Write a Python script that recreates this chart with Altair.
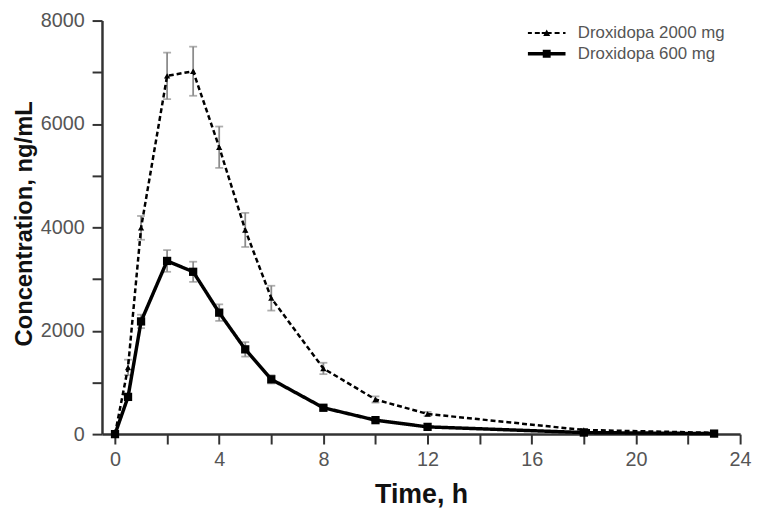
import altair as alt
import pandas as pd

# ---- data ----
time_h = [0, 0.5, 1, 2, 3, 4, 5, 6, 8, 10, 12, 18, 23]
conc_2000 = [0, 1290, 3990, 6930, 7020, 5550, 3950, 2630, 1270, 670, 390, 80, 25]
sem_2000 = [0, 150, 230, 450, 475, 400, 330, 240, 110, 60, 40, 15, 5]
conc_600 = [0, 720, 2180, 3350, 3140, 2350, 1640, 1060, 510, 270, 140, 30, 10]
sem_600 = [0, 60, 130, 210, 195, 160, 140, 80, 40, 25, 15, 5, 3]
series_names = ["Droxidopa 2000 mg", "Droxidopa 600 mg"]
x_ticks = list(range(0, 25, 2))
y_ticks = list(range(0, 8001, 1000))

rows = []
for name, conc, sem in [(series_names[0], conc_2000, sem_2000),
                        (series_names[1], conc_600, sem_600)]:
    for t, v, e in zip(time_h, conc, sem):
        rows.append({"series": name, "time": t, "conc": v, "sem": e})
df = pd.DataFrame(rows)

FONT = "Liberation Sans"
AXIS_COLOR = "#333333"

x_enc = alt.X(
    "time:Q",
    scale=alt.Scale(domain=[-0.5, 24], nice=False, zero=False),
    axis=alt.Axis(
        values=x_ticks,
        labelExpr="datum.value % 4 == 0 ? datum.label : ''",
        title="Time, h",
        titleFontSize=27, titleFontWeight="bold", titleFont=FONT, titleColor="#111111",
        titleBaseline="alphabetic", titleY=69,
        labelFontSize=20, labelFont=FONT, labelColor="#555555", labelPadding=6,
        labelFlush=False, labelOverlap=False,
        tickSize=10, tickWidth=2, tickColor=AXIS_COLOR,
        domainColor=AXIS_COLOR, domainWidth=2.5, grid=False,
    ),
)
y_enc = alt.Y(
    "conc:Q",
    scale=alt.Scale(domain=[0, 8000], nice=False),
    axis=alt.Axis(
        values=y_ticks,
        format="d",
        labelExpr="datum.value % 2000 == 0 ? datum.label : ''",
        title="Concentration, ng/mL",
        titleFontSize=24, titleFontWeight="bold", titleFont=FONT, titleColor="#111111",
        titleBaseline="alphabetic", titleX=-71, titleY=205, titleAngle=-90,
        titleAlign="center",
        labelFontSize=20, labelFont=FONT, labelColor="#555555", labelPadding=8,
        labelFlush=False, labelOverlap=False,
        tickSize=10, tickWidth=2, tickColor=AXIS_COLOR,
        domainColor=AXIS_COLOR, domainWidth=2.5, grid=False,
    ),
)

base = alt.Chart(df).transform_calculate(
    lo="datum.conc - datum.sem", hi="datum.conc + datum.sem"
)

err = base.transform_filter("datum.sem > 0").mark_rule(
    color="#8c8c8c", strokeWidth=1.8
).encode(x=x_enc, y="lo:Q", y2="hi:Q")

cap_lo = base.transform_filter("datum.sem > 0").mark_tick(
    color="#8c8c8c", orient="horizontal", size=8, thickness=1.8
).encode(x=x_enc, y="lo:Q")
cap_hi = base.transform_filter("datum.sem > 0").mark_tick(
    color="#8c8c8c", orient="horizontal", size=8, thickness=1.8
).encode(x=x_enc, y="hi:Q")

lines = base.mark_line(color="black").encode(
    x=x_enc, y=y_enc,
    detail="series:N",
    strokeDash=alt.StrokeDash("series:N", scale=alt.Scale(domain=series_names, range=[[5, 3], [1, 0]]), legend=None),
    strokeWidth=alt.StrokeWidth("series:N", scale=alt.Scale(domain=series_names, range=[2.5, 3.5]), legend=None),
)

points = base.mark_point(filled=True, color="black", opacity=1).encode(
    x=x_enc, y=y_enc,
    shape=alt.Shape("series:N", scale=alt.Scale(domain=series_names, range=["triangle-up", "square"]), legend=None),
    size=alt.Size("series:N", scale=alt.Scale(domain=series_names, range=[40, 70]), legend=None),
)

# legend symbols: dashed line + triangle, solid line + square (unit = 5 px)
sym_2000 = ("M-3.8,-0.2H-3.0V0.2H-3.8Z M-2.4,-0.2H-1.4V0.2H-2.4Z M-1.0,-0.2H1.0V0.2H-1.0Z "
            "M-0.7,0.6L0,-0.7L0.7,0.6Z M1.6,-0.2H2.6V0.2H1.6Z M3.3,-0.2H3.8V0.2H3.3Z")
sym_600 = "M-3.8,-0.35H3.8V0.35H-3.8Z M-0.8,-0.8H0.8V0.8H-0.8Z"

legend_layer = base.mark_point(filled=True, color="black", opacity=0).encode(
    x=x_enc, y=y_enc,
    shape=alt.Shape(
        "series:N",
        scale=alt.Scale(domain=series_names, range=[sym_2000, sym_600]),
        legend=alt.Legend(
            title=None, orient="none", legendX=441, legendY=4,
            symbolSize=100, symbolOpacity=1, symbolFillColor="black",
            symbolStrokeWidth=0, symbolStrokeColor="black",
            labelFont=FONT, labelFontSize=17, labelColor="#555555",
            labelOffset=23, rowPadding=3, padding=0,
        ),
    ),
)

chart = alt.layer(err, cap_lo, cap_hi, lines, points, legend_layer).resolve_scale(
    shape="independent", size="independent"
).properties(
    width=645, height=418,
    autosize=alt.AutoSizeParams(type="none"),
    padding={"left": 95, "top": 10, "right": 12, "bottom": 74},
).configure_view(stroke=None)

chart.save("out.html", embed_options={"renderer": "svg", "actions": False})
